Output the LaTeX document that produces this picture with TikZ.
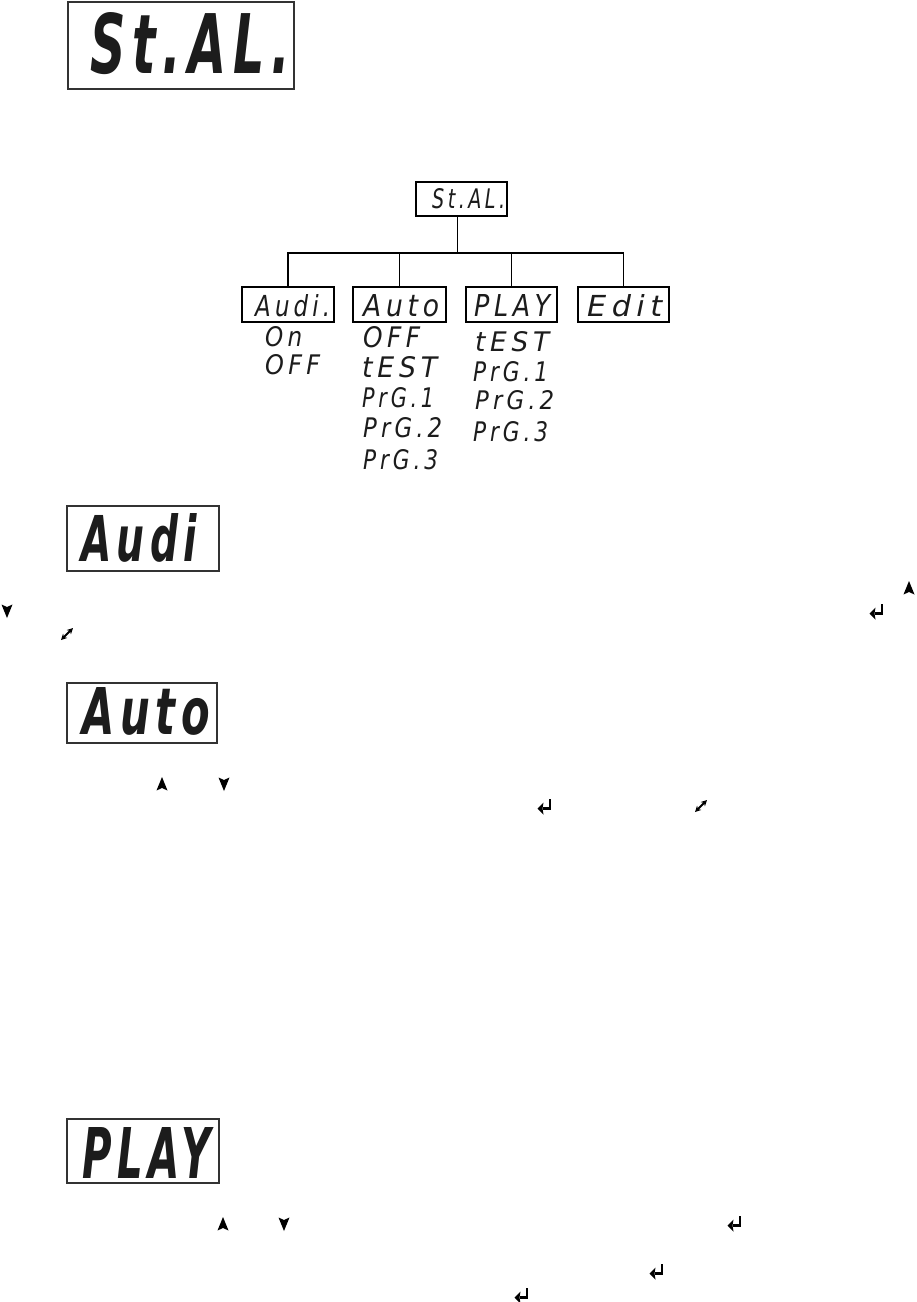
\documentclass[tikz,border=0pt]{standalone}
\usepackage{fontspec}
\usetikzlibrary{arrows.meta}
\newfontfamily\lcdfont{DejaVu Sans}[LetterSpace=18]
\newfontfamily\lcdbigfont{DejaVu Sans}[LetterSpace=14]
\newcommand\lcdthin[3]{\resizebox{#1pt}{#2pt}{\lcdfont\itshape #3}}
\newcommand\lcdbold[3]{\resizebox{#1pt}{#2pt}{\lcdbigfont\bfseries\itshape #3}}
\definecolor{segcol}{HTML}{1C1C1C}
\definecolor{framecol}{HTML}{333333}
\tikzset{
  bigframe/.style={draw=framecol, line width=2pt, inner sep=0pt, outer sep=0pt, anchor=north west},
  menubox/.style={draw=black, line width=1.5pt, inner sep=0pt, outer sep=0pt, anchor=north west, minimum height=35pt},
  lcdlabel/.style={inner sep=0pt, anchor=south west, text=segcol},
  treeline/.style={draw=black, line width=1.6pt},
  thinline/.style={draw=black, line width=1pt},
  uparr/.pic={\fill[black] (0,-7) -- (5.5,6.5) -- (0,4) -- (-5.5,6.5) -- cycle;},
  downarr/.pic={\fill[black] (0,7) -- (5.5,-6.5) -- (0,-4) -- (-5.5,-6.5) -- cycle;},
  retarr/.pic={\draw[black, line width=2.6pt] (5,-7) -- (5,2.5) -- (-2,2.5);
               \fill[black] (-7.5,2.5) -- (-1.5,-3.5) -- (-2.5,2.5) -- (-1.5,8.5) -- cycle;},
  diagarr/.pic={\draw[black, line width=1.8pt, {Stealth[length=6pt,width=6pt]}-{Stealth[length=6pt,width=6pt]}] (-6,6) -- (6,-6);}
}
\begin{document}
\begin{tikzpicture}[x=1pt,y=-1pt]
\fill[white] (0,0) rectangle (917,1302);
\useasboundingbox (0,0) rectangle (917,1302);

% top display
\node[bigframe, minimum width=226pt, minimum height=87pt] (topbox) at (68,2) {};
\node[lcdlabel] (toptext) at (90,75) {\lcdbold{200}{61}{St.AL.}};

% menu tree
\node[menubox, minimum width=91pt, minimum height=34pt] (root) at (416,182) {};
\node[lcdlabel] (roottext) at (432,209) {\lcdthin{73}{20}{St.AL.}};
\node[menubox, minimum width=92pt] (audi) at (242,287) {};
\node[menubox, minimum width=93pt] (auto) at (353,287) {};
\node[menubox, minimum width=91pt] (play) at (466,287) {};
\node[menubox, minimum width=91pt] (edit) at (578,287) {};
\node[lcdlabel] (auditext) at (255,317) {\lcdthin{75}{22}{Audi.}};
\node[lcdlabel] (autotext) at (363,317) {\lcdthin{76}{22}{Auto}};
\node[lcdlabel] (playtext) at (474,317) {\lcdthin{76}{22}{PLAY}};
\node[lcdlabel] (edittext) at (587,317) {\lcdthin{75}{22}{Edit}};

\coordinate (hub) at (457,253);
\draw[thinline] ([xshift=-4.5pt]root.south) -- (hub);
\draw[treeline] (audi.north) -- (audi.north |- hub) -- (edit.north |- hub) -- (edit.north);
\draw[thinline] (auto.north) -- (auto.north |- hub);
\draw[treeline] (play.north) -- (play.north |- hub);

% sub items
\node[lcdlabel] (aon) at (265,347) {\lcdthin{37}{20}{On}};
\node[lcdlabel] (aoff) at (265,375) {\lcdthin{55}{20}{OFF}};
\node[lcdlabel] (uoff) at (363,348) {\lcdthin{57}{21}{OFF}};
\node[lcdlabel] (utest) at (362,378) {\lcdthin{75}{21}{tEST}};
\node[lcdlabel] (uprg1) at (362,408) {\lcdthin{72}{20}{PrG.1}};
\node[lcdlabel] (uprg2) at (363,438) {\lcdthin{79}{20}{PrG.2}};
\node[lcdlabel] (uprg3) at (363,470) {\lcdthin{75}{20}{PrG.3}};
\node[lcdlabel] (ptest) at (475,352) {\lcdthin{74}{20}{tEST}};
\node[lcdlabel] (pprg1) at (473,382) {\lcdthin{75}{20}{PrG.1}};
\node[lcdlabel] (pprg2) at (475,410) {\lcdthin{79}{19}{PrG.2}};
\node[lcdlabel] (pprg3) at (473,442) {\lcdthin{75}{20}{PrG.3}};

% Audi display
\node[bigframe, minimum width=152pt, minimum height=65pt] (audibox) at (67,506) {};
\node[lcdlabel] (audibig) at (81,563) {\lcdbold{116}{48}{Audi}};
\pic (s1) at (909,588) {uparr};
\pic (s2) at (7,611) {downarr};
\pic (s3) at (877,611) {retarr};
\pic (s4) at (67,634) {diagarr};

% Auto display
\node[bigframe, minimum width=150pt, minimum height=60pt] (autobox) at (67,683) {};
\node[lcdlabel] (autobig) at (82,736) {\lcdbold{128}{47}{Auto}};
\pic (s5) at (162,784) {uparr};
\pic (s6) at (224,784) {downarr};
\pic (s7) at (545,806) {retarr};
\pic (s8) at (701,806) {diagarr};

% PLAY display
\node[bigframe, minimum width=152pt, minimum height=64pt] (playbox) at (67,1119) {};
\node[lcdlabel] (playbig) at (82,1179) {\lcdbold{128}{51}{PLAY}};
\pic (s9) at (223,1224) {uparr};
\pic (s10) at (284,1224) {downarr};
\pic (s11) at (735,1223) {retarr};
\pic (s12) at (657,1271) {retarr};
\pic (s13) at (522,1295) {retarr};
\end{tikzpicture}
\end{document}
